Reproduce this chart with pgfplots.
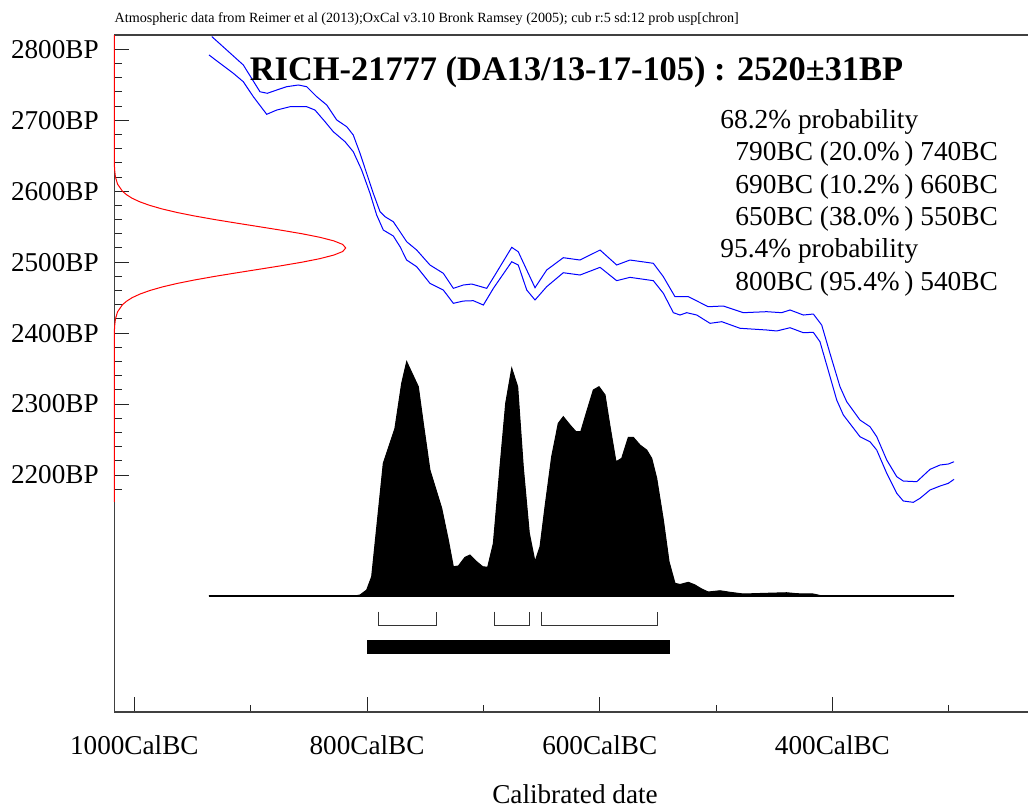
\documentclass[border=0pt]{standalone}
\usepackage{pgfplots}
\pgfplotsset{compat=1.18}
\usepackage{fontspec}
\setmainfont{Liberation Serif}
\begin{document}
\begin{tikzpicture}
\path[use as bounding box] (-57.15pt,-47.5pt) rectangle (456.85pt,356pt);
\begin{axis}[
  at={(0pt,0pt)}, anchor=south west,
  scale only axis, width=456.85pt, height=338.5pt,
  x dir=reverse, xmin=231.9, xmax=1017.2, ymin=1866, ymax=2820.2,
  axis x line*=box, axis y line*=left,
  xtick pos=bottom,
  xtick={1000,800,600,400}, xticklabels={1000CalBC,800CalBC,600CalBC,400CalBC},
  minor xtick={900,700,500,300},
  ytick={2200,2300,2400,2500,2600,2700,2800},
  yticklabels={2200BP,2300BP,2400BP,2500BP,2600BP,2700BP,2800BP},
  minor ytick={2180,2220,2240,2260,2280,2320,2340,2360,2380,2420,2440,2460,2480,2520,2540,2560,2580,2620,2640,2660,2680,2720,2740,2760,2780},
  tick align=inside, major tick length=7.5pt, minor tick length=3.7pt,
  tick style={black!85, line width=0.5pt},
  axis line style={black!75, line width=0.6pt},
  ticklabel style={font=\fontsize{13.6}{16}\selectfont},
  yticklabel style={anchor=east, inner sep=0pt, xshift=-7.6pt},
  xticklabel style={anchor=north, inner sep=0pt, yshift=-11.5pt},
  clip=false,
]
% radiocarbon date (Gaussian) on the BP axis
\addplot[red, line width=0.5pt] table {
x y
1017.2 2162
1017.2 2400
1016.9 2410
1016.2 2420
1014.4 2430
1010.2 2440
1006.6 2445
1001.8 2450
995.2 2455
986.7 2460
976.1 2465
963.2 2470
947.9 2475
930.7 2480
912.0 2485
892.7 2490
873.6 2495
855.7 2500
840.4 2505
828.5 2510
820.9 2515
818.3 2520
820.9 2525
828.5 2530
840.4 2535
855.7 2540
873.6 2545
892.7 2550
912.0 2555
930.7 2560
947.9 2565
963.2 2570
976.1 2575
986.7 2580
995.2 2585
1001.8 2590
1006.6 2595
1010.2 2600
1014.4 2610
1016.2 2620
1016.9 2630
1017.2 2640
1017.2 2820
};
% calibration curve, upper
\addplot[blue, line width=0.5pt] table {
x y
933.4 2818.0
906.3 2777.9
892.0 2740.2
885.7 2738.0
877.6 2742.6
869.0 2747.3
859.0 2749.7
851.8 2747.3
843.2 2733.2
834.6 2721.5
826.0 2700.4
817.4 2690.9
811.8 2679.2
806.0 2653.4
800.3 2625.2
794.6 2597.0
788.8 2571.1
784.5 2564.1
777.4 2557.0
771.6 2542.9
765.9 2528.8
757.3 2517.1
745.9 2496.0
734.4 2484.3
725.8 2463.1
717.2 2467.8
710.0 2469.2
697.1 2463.1
690.0 2481.9
675.6 2520.9
670.0 2514.7
662.7 2488.9
655.6 2464.0
645.6 2488.9
631.3 2506.3
616.9 2503.0
599.7 2517.1
585.4 2496.0
574.0 2503.0
553.9 2498.4
545.3 2479.5
535.3 2451.3
523.8 2451.3
506.7 2437.2
493.8 2438.2
476.6 2428.8
456.5 2430.2
443.6 2428.8
436.4 2432.6
425.0 2425.5
416.4 2426.9
409.2 2411.4
402.1 2371.5
393.5 2324.5
387.7 2303.3
376.3 2277.5
367.7 2268.1
361.9 2254.0
353.3 2221.1
344.7 2197.6
339.1 2191.5
327.5 2190.6
316.1 2208.0
307.5 2214.1
300.4 2215.5
295.5 2218.7
};
% calibration curve, lower
\addplot[blue, line width=0.5pt] table {
x y
935.8 2792.0
914.9 2766.2
906.3 2754.3
897.7 2733.2
886.2 2708.4
877.6 2714.4
866.2 2719.1
851.8 2719.1
844.7 2714.4
836.1 2698.0
829.0 2683.9
818.9 2669.8
811.8 2655.7
804.6 2629.9
797.4 2597.0
791.7 2566.5
786.0 2545.3
777.4 2536.9
771.6 2521.8
765.9 2503.0
757.3 2493.6
745.9 2470.2
734.4 2460.7
725.8 2442.0
717.2 2445.2
708.6 2445.7
700.0 2439.6
691.4 2463.1
675.6 2500.6
670.0 2496.0
662.7 2460.7
655.6 2446.7
645.6 2465.4
631.3 2485.1
616.9 2481.9
599.7 2492.7
585.4 2473.9
574.0 2478.6
553.9 2473.9
545.3 2456.1
536.7 2428.8
531.0 2425.5
525.2 2428.8
516.6 2425.5
505.2 2413.8
495.1 2416.1
479.4 2406.8
456.5 2404.4
447.9 2403.0
436.4 2407.6
425.0 2400.6
416.4 2401.1
410.7 2387.9
404.9 2355.0
396.3 2305.7
390.6 2284.6
376.3 2254.0
367.7 2246.9
361.9 2235.2
353.3 2202.4
344.7 2174.2
339.1 2163.4
330.5 2161.5
324.7 2167.2
316.1 2178.9
307.5 2184.5
300.4 2188.3
295.5 2193.9
};
% calibrated probability distribution (baseline at 2029.5 on the BP scale)
\addplot[fill=black, draw=black, line width=0.5pt] table {
x y
935.8 2029.5
810.3 2029.5
806.0 2030.9
800.3 2037.9
796.0 2056.7
786.0 2216.5
776.0 2265.8
770.2 2329.2
765.9 2359.7
755.9 2324.5
751.6 2272.9
745.9 2207.0
735.8 2153.1
730.1 2108.4
725.8 2070.8
721.5 2071.7
715.8 2084.0
711.5 2087.2
705.7 2077.8
700.6 2070.8
696.3 2069.9
691.4 2103.7
685.7 2211.7
680.8 2301.1
675.6 2350.4
670.5 2324.5
665.7 2211.7
660.5 2117.8
655.6 2077.8
651.3 2098.9
647.0 2155.3
641.3 2225.8
635.6 2272.9
631.3 2282.2
625.5 2270.5
620.4 2261.0
616.3 2261.0
611.2 2289.2
605.5 2319.8
600.6 2324.5
595.4 2312.8
591.1 2268.1
586.0 2218.7
581.1 2223.5
575.4 2253.1
571.1 2253.1
565.4 2242.3
559.6 2235.2
555.3 2223.5
551.0 2195.3
545.3 2136.6
540.4 2077.8
535.3 2047.4
531.0 2045.7
523.8 2048.8
518.1 2045.0
512.3 2039.3
506.7 2035.1
496.6 2036.9
488.0 2034.7
476.6 2032.3
456.5 2033.3
439.3 2034.1
430.7 2032.7
416.4 2032.3
410.7 2030.2
402.1 2029.5
295.5 2029.5
};
\addplot[black, line width=1pt] coordinates {(935.8,2029.5) (295.5,2029.5)};
% 68.2% ranges
\addplot[black!80, line width=0.5pt] coordinates {(790,2007.3) (790,1988.6) (740,1988.6) (740,2007.3)};
\addplot[black!80, line width=0.5pt] coordinates {(690,2007.3) (690,1988.6) (660,1988.6) (660,2007.3)};
\addplot[black!80, line width=0.5pt] coordinates {(650,2007.3) (650,1988.6) (550,1988.6) (550,2007.3)};
% 95.4% range
\addplot[fill=black, draw=none] coordinates {(800,1967.4) (540,1967.4) (540,1947.3) (800,1947.3)} -- cycle;
\end{axis}
\node[anchor=west, inner sep=0pt, font=\fontsize{7.05}{8}\selectfont] at (0pt,346.5pt)
  {Atmospheric data from Reimer et al (2013);OxCal v3.10 Bronk Ramsey (2005); cub r:5 sd:12 prob usp[chron]};
\node[inner sep=0pt, font=\fontsize{17.2}{20}\selectfont\bfseries] at (231.1pt,319.75pt)
  {RICH-21777 (DA13/13-17-105) : 2520±31BP};
\begin{scope}[every node/.style={anchor=base west, inner sep=0pt, font=\fontsize{13.7}{16}\selectfont}]
\node at (302.85pt,291.65pt) {68.2\% probability};
\node at (310.35pt,275.5pt) {790BC (20.0\%\,) 740BC};
\node at (310.35pt,259.35pt) {690BC (10.2\%\,) 660BC};
\node at (310.35pt,243.2pt) {650BC (38.0\%\,) 550BC};
\node at (302.85pt,227.05pt) {95.4\% probability};
\node at (310.35pt,210.9pt) {800BC (95.4\%\,) 540BC};
\end{scope}
\node[anchor=base, inner sep=0pt, font=\fontsize{13.6}{16}\selectfont] at (230.35pt,-45.8pt) {Calibrated date};
\end{tikzpicture}
\end{document}
